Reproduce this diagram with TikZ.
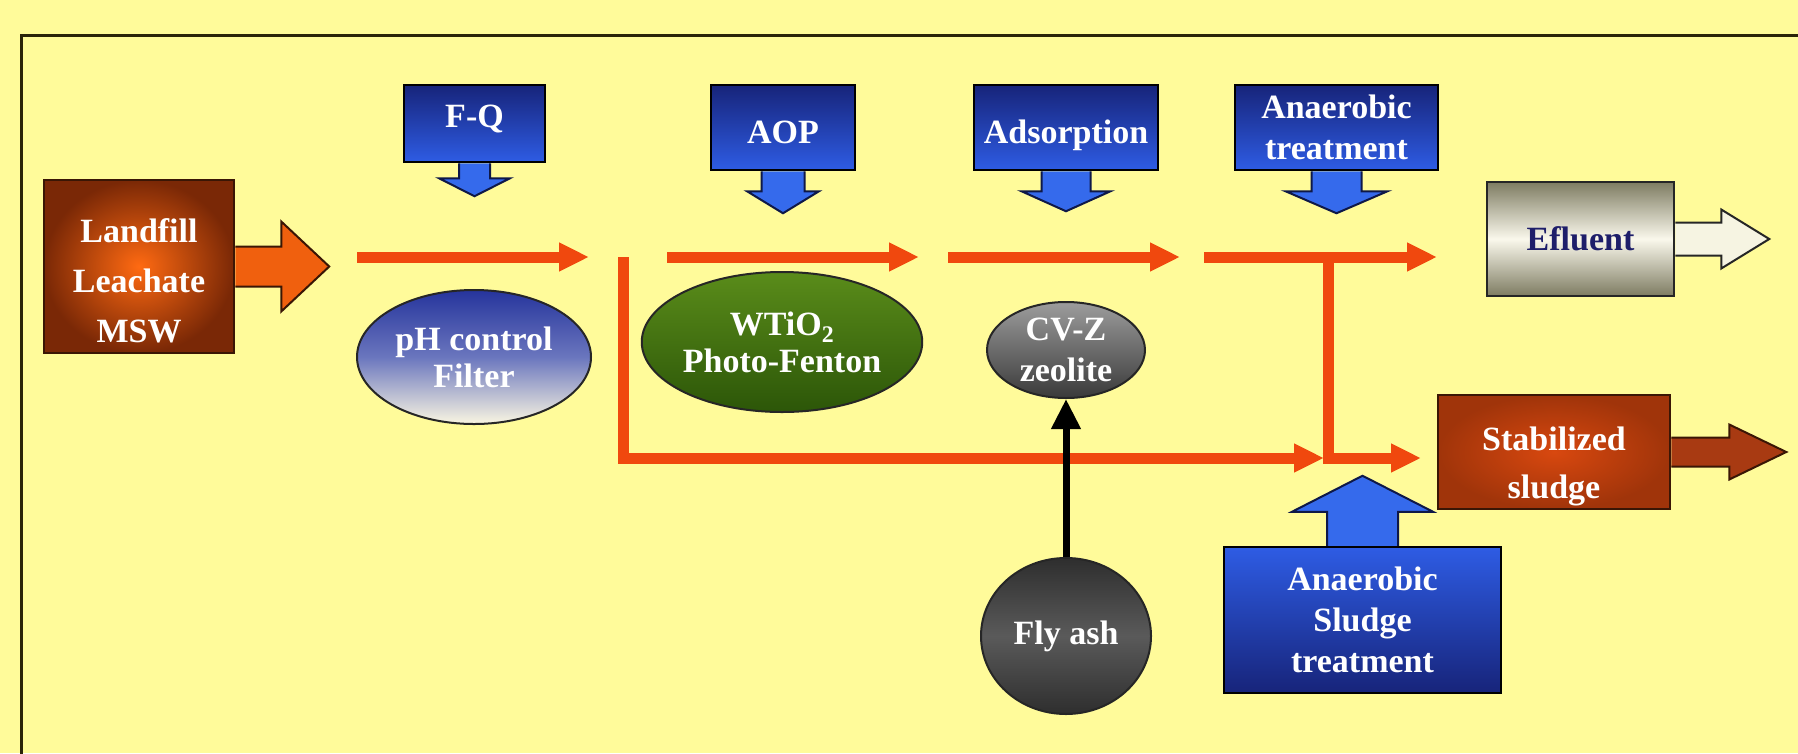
\documentclass[tikz,border=0pt]{standalone}
\usepackage{fontspec}
\setmainfont{Liberation Serif}
\usetikzlibrary{arrows.meta,shapes.geometric,calc}
\definecolor{bg}{HTML}{FFFB9A}
\definecolor{framec}{HTML}{2A2408}
\definecolor{flowc}{HTML}{F0480E}
\definecolor{boxtop}{HTML}{17247A}
\definecolor{boxbot}{HTML}{2E5CE4}
\definecolor{arrowblue}{HTML}{356AEC}
\definecolor{arrowedge}{HTML}{0E1848}
\definecolor{brownedge}{HTML}{3A1605}
\definecolor{lfin}{HTML}{FF6A12}
\definecolor{lfout}{HTML}{7A2806}
\definecolor{lfarrow}{HTML}{F0600E}
\definecolor{stin}{HTML}{D8480F}
\definecolor{stout}{HTML}{A0340A}
\definecolor{starrow}{HTML}{A83A12}
\definecolor{efdark}{HTML}{7E7C62}
\definecolor{eflight}{HTML}{FAF8EC}
\definecolor{efarrow}{HTML}{F6F4E2}
\definecolor{navy}{HTML}{1E1E6A}
\definecolor{phtop}{HTML}{26349C}
\definecolor{phmid}{HTML}{6A76BE}
\definecolor{phbot}{HTML}{FAF6E2}
\definecolor{gtop}{HTML}{5A8C1A}
\definecolor{gbot}{HTML}{2C5608}
\definecolor{cvtop}{HTML}{9C9C9C}
\definecolor{cvbot}{HTML}{3A3A3A}
\definecolor{fadark}{HTML}{2E2E2E}
\definecolor{famid}{HTML}{5A5A5A}
\newcommand\dnarrow[5]{% node, shaft half width, shaft length, head half width, head length
  \filldraw[barrow] ([xshift=-#2pt]#1.south) -- ++(0,#3) -- ++({#2-#4},0) -- ++(#4,#5) -- ++(#4,-#5) -- ++({#2-#4},0) -- ++(0,-#3);}
\newcommand\uparrowshape[5]{%
  \filldraw[barrow] ([xshift=-#2pt]#1.north) -- ++(0,-#3) -- ++({#2-#4},0) -- ++(#4,-#5) -- ++(#4,#5) -- ++({#2-#4},0) -- ++(0,#3);}
\newcommand\rtarrow[6]{% style, node, shaft half height, shaft length, head half height, head length
  \filldraw[#1] ([yshift=#3pt]#2.east) -- ++(#4,0) -- ++(0,{#3-#5}) -- ++(#6,#5) -- ++(-#6,#5) -- ++(0,{#3-#5}) -- ++(-#4,0);}
\tikzset{
  lbl/.style={font=\bfseries\fontsize{34}{41}\selectfont, text=white, align=center},
  bbox/.style={draw=black, line width=2.5pt, top color=boxtop, bottom color=boxbot, inner sep=0pt},
  barrow/.style={draw=arrowedge, line width=2pt, fill=arrowblue, line join=miter},
  flow/.style={draw=flowc, line width=11pt, -{Triangle[length=30pt,width=27pt]}},
  flowline/.style={draw=flowc, line width=11pt},
  oval/.style={ellipse, inner sep=0pt, line width=2pt, draw=black!85},
}
\begin{document}
\begin{tikzpicture}[x=1pt,y=-1pt]
\useasboundingbox (0,0) rectangle (1798,753);
\clip (0,0) rectangle (1798,753);
\fill[bg] (0,0) rectangle (1798,753);
\draw[framec, line width=3pt] (21,35) rectangle (1840,800);

% ---- nodes ----
\node[bbox, draw=brownedge, inner color=lfin, outer color=lfout, minimum width=190pt, minimum height=173pt] (landfill) at (139,266.5) {};
\node[lbl, font=\bfseries\fontsize{34}{50}\selectfont] (landfilltxt) at (139,281) {Landfill\\Leachate\\MSW};

\node[bbox, lbl, minimum width=141pt, minimum height=77pt, text depth=14pt] (fq) at (474.5,123.5) {F-Q};
\node[bbox, lbl, minimum width=144pt, minimum height=85pt, text height=36pt, text depth=4pt] (aop) at (783,127.5) {AOP};
\node[bbox, lbl, minimum width=184pt, minimum height=85pt, text height=36pt, text depth=4pt] (ads) at (1066,127.5) {Adsorption};
\node[bbox, lbl, minimum width=203pt, minimum height=85pt] (anaer) at (1336.5,127.5) {Anaerobic\\treatment};

\node[oval, top color=phtop, bottom color=phbot, middle color=phmid, minimum width=234pt, minimum height=134pt, lbl, font=\bfseries\fontsize{34}{37}\selectfont] (ph) at (474,357) {pH control\\Filter};
\node[oval, top color=gtop, bottom color=gbot, minimum width=252pt, minimum height=140pt, lbl, font=\bfseries\fontsize{34}{37}\selectfont] (wtio) at (782,342) {WTiO\textsubscript{2}\\Photo-Fenton};
\node[oval, top color=cvtop, bottom color=cvbot, minimum width=158pt, minimum height=96pt, lbl] (cvz) at (1066,350) {CV-Z\\zeolite};
\node[oval, top color=fadark, bottom color=fadark, middle color=famid, minimum width=170pt, minimum height=156pt, lbl] (flyash) at (1066,636) {Fly ash};

\node[bbox, draw=black!85, top color=efdark, bottom color=efdark, middle color=eflight, minimum width=187pt, minimum height=114pt, lbl, text=navy] (effluent) at (1580.5,239) {Efluent};
\node[bbox, draw=brownedge, inner color=stin, outer color=stout, minimum width=232pt, minimum height=114pt] (stab) at (1554,452) {};
\node[lbl, font=\bfseries\fontsize{34}{48}\selectfont] (stabtxt) at (1554,466) {Stabilized\\sludge};
\node[bbox, top color=boxbot, bottom color=boxtop, minimum width=277pt, minimum height=146pt, lbl] (ast) at (1362.5,620) {Anaerobic\\Sludge\\treatment};

% ---- block arrows ----
\rtarrow{draw=brownedge, line width=2pt, fill=lfarrow}{landfill}{20}{46}{45}{48}
\dnarrow{fq}{15.5}{15}{35.5}{18}
\dnarrow{aop}{21.5}{20}{36}{22}
\dnarrow{ads}{24.5}{20}{44.5}{20}
\dnarrow{anaer}{25}{20}{51}{22}
\rtarrow{draw=black!85, line width=2pt, fill=efarrow}{effluent}{16.5}{46}{29.5}{48}
\rtarrow{draw=brownedge, line width=2pt, fill=starrow}{stab}{14.5}{58}{27.5}{57}
\uparrowshape{ast}{35.5}{34}{70.5}{36}

% ---- flow lines ----
\coordinate (p1s) at (357,257);  \coordinate (p1e) at (589,257);
\coordinate (p2s) at (667,257);  \coordinate (p2e) at (919,257);
\coordinate (p3s) at (948,257);  \coordinate (p3e) at (1180,257);
\coordinate (p4s) at (1204,257); \coordinate (p4e) at (1437,257);
\coordinate (b1) at (623,257);   \coordinate (b2) at (623,458);
\coordinate (b3) at (1324,458);
\coordinate (j1) at (1328,257);  \coordinate (j2) at (1328,458);
\coordinate (j3) at (1421,458);

\draw[flow] (p1s) -- (p1e);
\draw[flow] (p2s) -- (p2e);
\draw[flow] (p3s) -- (p3e);
\draw[flow] (p4s) -- (p4e);
\draw[flowline, line join=miter] (b1) -- (b2) -- ([xshift=-20pt]b3);
\draw[flow] ([xshift=-40pt]b3) -- (b3);
\draw[flowline] (j1) -- ([yshift=-5.5pt]j2);
\draw[flow] ([xshift=-5.5pt]j2) -- (j3);

\draw[black, line width=7pt, -{Triangle[length=30pt,width=28pt]}] (flyash.north) -- (cvz.south);
\end{tikzpicture}
\end{document}
